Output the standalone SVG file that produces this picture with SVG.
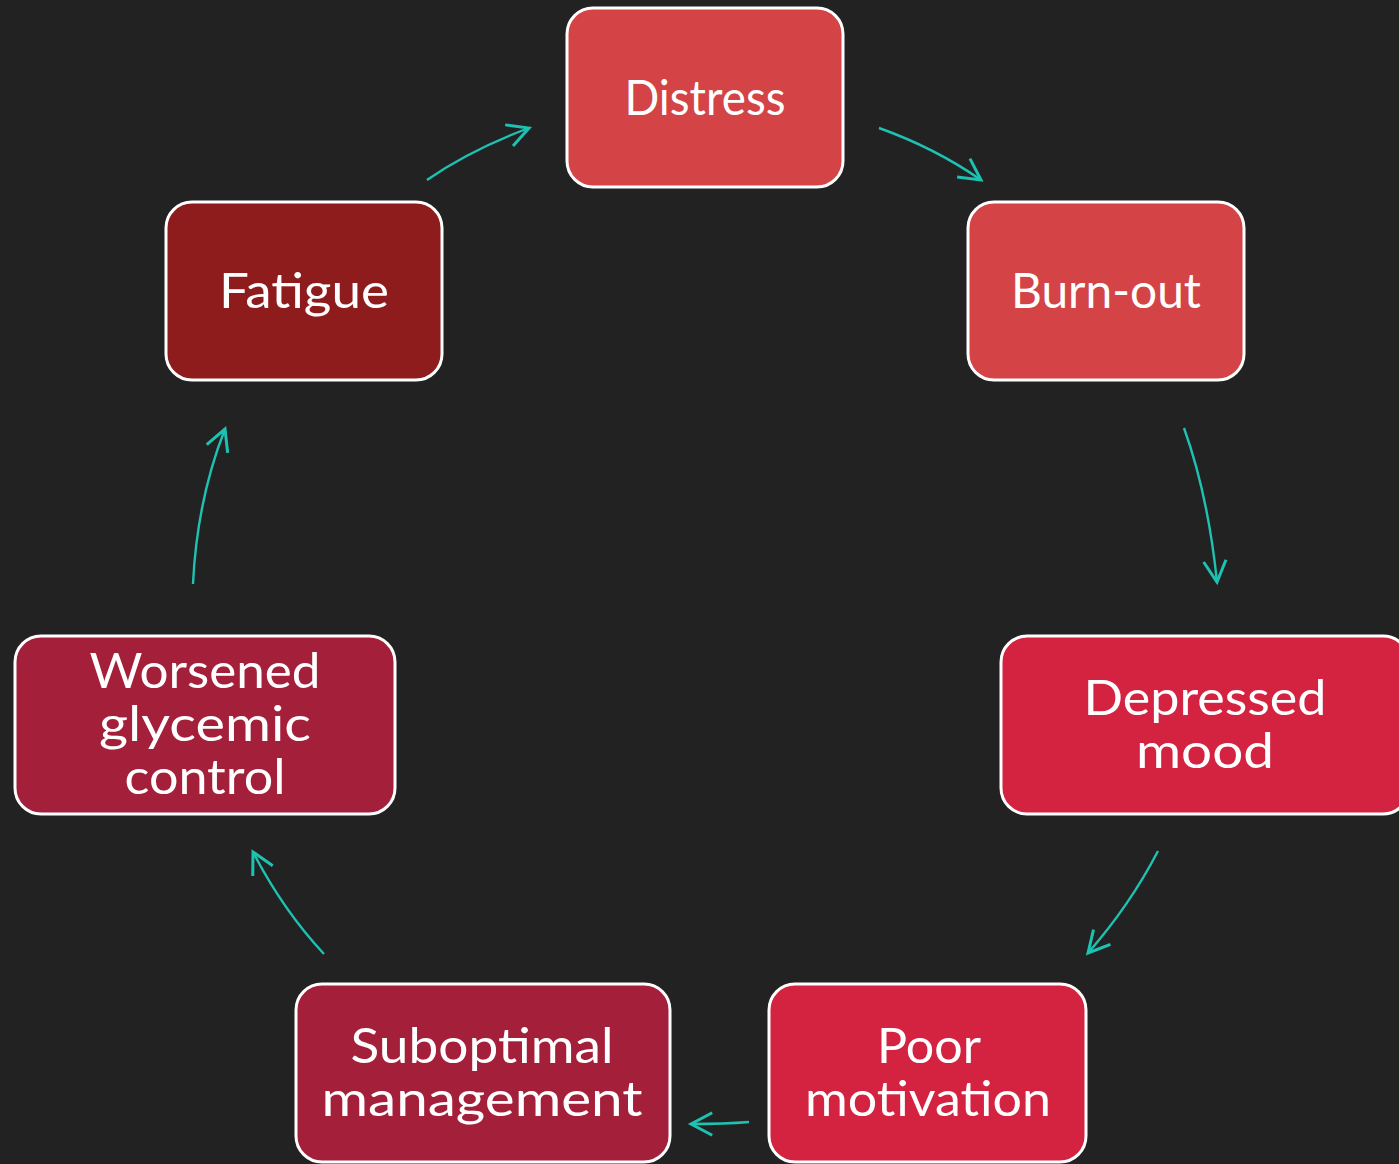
<svg xmlns="http://www.w3.org/2000/svg" width="1399" height="1164" viewBox="0 0 1399 1164">
<defs>
<style>
.box{stroke:#ffffff;stroke-width:3}
.lbl{font-family:Lato,"Liberation Sans",sans-serif;font-size:48px;font-weight:400;fill:#ffffff;text-anchor:middle}
.con{fill:none;stroke:#1ec2b2;stroke-width:2.4}
</style>
<marker id="ah" markerUnits="userSpaceOnUse" markerWidth="30" markerHeight="30" viewBox="-20 -12 24 24" refX="0" refY="0" orient="auto">
<path d="M-17,-9 L0,0 L-17,9" fill="none" stroke="#1ec2b2" stroke-width="2.4"/>
</marker>
</defs>
<rect width="1399" height="1164" fill="#222222"/>
<g id="connectors">
<path class="con" d="M427,180 Q470,150 529,128" marker-end="url(#ah)"/>
<path class="con" d="M879,128 Q935,148 981,180" marker-end="url(#ah)"/>
<path class="con" d="M1184,428 Q1208,495 1217,582" marker-end="url(#ah)"/>
<path class="con" d="M1158,851 Q1130,905 1088,953" marker-end="url(#ah)"/>
<path class="con" d="M749,1122 Q725,1124 691,1124" marker-end="url(#ah)"/>
<path class="con" d="M324,954 Q283,910 253,852" marker-end="url(#ah)"/>
<path class="con" d="M193,584 Q197,500 225,429" marker-end="url(#ah)"/>
</g>
<g id="distress">
<rect class="box" x="567" y="8" width="276" height="179" rx="26" fill="#d44345"/>
<text class="lbl" x="705" y="115" textLength="161" lengthAdjust="spacingAndGlyphs">Distress</text>
</g>
<g id="burnout">
<rect class="box" x="968" y="202" width="276" height="178" rx="26" fill="#d44345"/>
<text class="lbl" x="1106" y="308" textLength="190" lengthAdjust="spacingAndGlyphs">Burn-out</text>
</g>
<g id="depressed">
<rect class="box" x="1001" y="636" width="408" height="178" rx="26" fill="#d32340"/>
<text class="lbl" x="1205" y="715" textLength="243" lengthAdjust="spacingAndGlyphs">Depressed</text>
<text class="lbl" x="1205" y="768" textLength="138" lengthAdjust="spacingAndGlyphs">mood</text>
</g>
<g id="poor">
<rect class="box" x="769" y="984" width="317" height="178" rx="26" fill="#d32340"/>
<text class="lbl" x="929" y="1063" textLength="104" lengthAdjust="spacingAndGlyphs">Poor</text>
<text class="lbl" x="928" y="1116" textLength="246" lengthAdjust="spacingAndGlyphs">motivation</text>
</g>
<g id="suboptimal">
<rect class="box" x="296" y="984" width="374" height="178" rx="26" fill="#a41f3a"/>
<text class="lbl" x="482" y="1063" textLength="263" lengthAdjust="spacingAndGlyphs">Suboptimal</text>
<text class="lbl" x="482" y="1116" textLength="321" lengthAdjust="spacingAndGlyphs">management</text>
</g>
<g id="worsened">
<rect class="box" x="15" y="636" width="380" height="178" rx="26" fill="#a41f3a"/>
<text class="lbl" x="205" y="688" textLength="231" lengthAdjust="spacingAndGlyphs">Worsened</text>
<text class="lbl" x="205" y="741" textLength="212" lengthAdjust="spacingAndGlyphs">glycemic</text>
<text class="lbl" x="205" y="794" textLength="161" lengthAdjust="spacingAndGlyphs">control</text>
</g>
<g id="fatigue">
<rect class="box" x="166" y="202" width="276" height="178" rx="26" fill="#8e1c1d"/>
<text class="lbl" x="304" y="308" textLength="170" lengthAdjust="spacingAndGlyphs">Fatigue</text>
</g>
</svg>
